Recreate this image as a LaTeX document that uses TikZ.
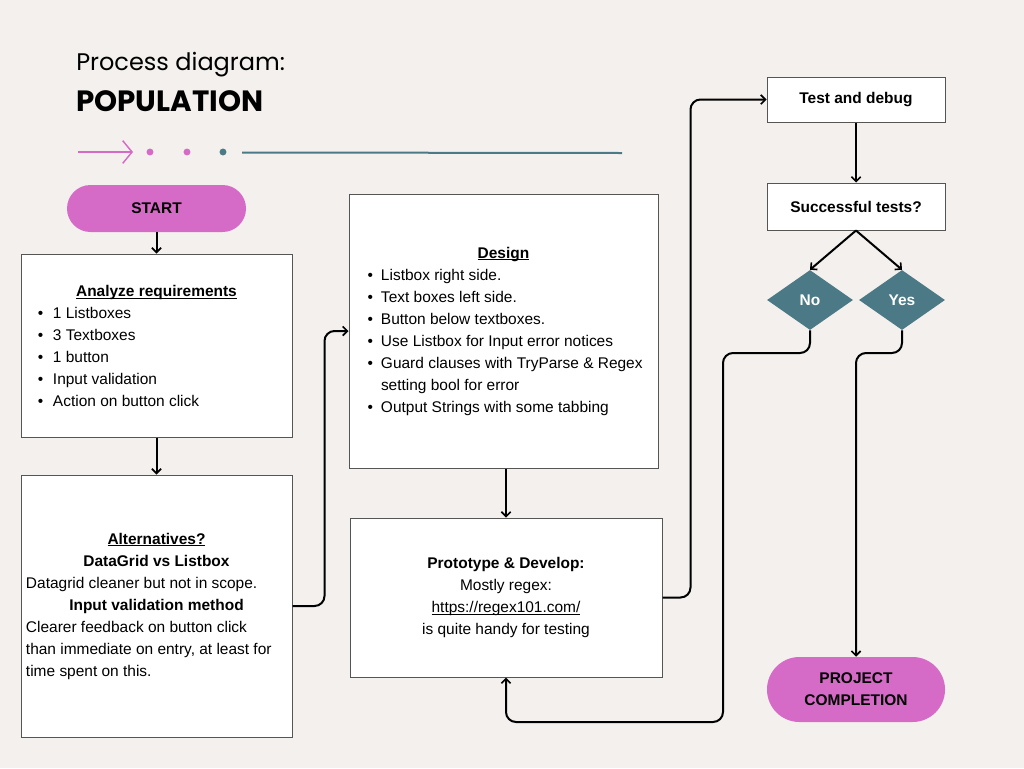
\documentclass[tikz,border=0pt]{standalone}
\usepackage{fontspec}
\setmainfont{Liberation Sans}
\newfontfamily\titlefont{Poppins}
\usetikzlibrary{shapes.geometric,arrows.meta,calc}
\definecolor{bg}{HTML}{F4F0ED}
\definecolor{pinkc}{HTML}{D56BC7}
\definecolor{tealc}{HTML}{4B7A86}
\definecolor{edgec}{HTML}{555555}
\newcommand\ul[1]{\setbox0\hbox{#1}\rlap{\rule[-1.8pt]{\wd0}{0.7pt}}\box0}
\newcommand\bul[2]{\par\noindent\hspace*{#1}\makebox[\dimexpr24pt-#1\relax][l]{\textbullet}#2}
\begin{document}
\begin{tikzpicture}[x=0.75pt,y=-0.75pt,
  every node/.style={font=\fontsize{11.6}{16.5}\selectfont},
  box/.style={draw=edgec,line width=0.75pt,fill=white,inner sep=0pt,rectangle},
  pill/.style={fill=pinkc,inner sep=0pt,font=\fontsize{11.6}{16.5}\selectfont\bfseries,align=center},
  dia/.style={diamond,fill=tealc,inner sep=0pt,minimum width=64.5pt,minimum height=45pt,text=white,font=\fontsize{11.6}{16.5}\selectfont\bfseries},
  conn/.style={line width=1.5pt,-{Straight Barb[length=3.5pt,width=7pt,line width=1.2pt]},rounded corners=7.5pt}]
\fill[bg] (0,0) rectangle (1024,768);
\useasboundingbox (0,0) rectangle (1024,768);

% title
\node[anchor=base west,inner sep=0,font=\titlefont\fontsize{18}{20}\selectfont] (t1) at (76,70) {Process diagram:};
\node[anchor=base west,inner sep=0,font=\titlefont\bfseries\fontsize{22}{24}\selectfont] (t2) at (76,111) {POPULATION};

% decoration
\coordinate (d0) at (78,152);
\coordinate (d1) at (133,152);
\draw[pinkc,line width=1.1pt,-{Straight Barb[length=7pt,width=17pt,line width=1.1pt]}] (d0) -- (d1);
\fill[pinkc] (150,152) circle (2.6pt);
\fill[pinkc] (187,152) circle (2.6pt);
\fill[tealc] (223,152) circle (2.6pt);
\coordinate (l0) at (242,152.5);
\coordinate (l1) at (622,153);
\draw[tealc,line width=1.5pt] (l0) -- (l1);

% nodes
\node[pill,minimum width=134.25pt,minimum height=35.25pt,rounded corners=17.6pt] (start) at (156.5,208.5) {START};

\node[box,minimum width=203.25pt,minimum height=137.25pt] (ana) at (156.5,345.5) {\parbox{203.25pt}{%
\centering\textbf{\ul{Analyze requirements}}\par\raggedright
\bul{12.75pt}{1 Listboxes}
\bul{12.75pt}{3 Textboxes}
\bul{12.75pt}{1 button}
\bul{12.75pt}{Input validation}
\bul{12.75pt}{Action on button click}}};

\node[box,minimum width=203.25pt,minimum height=196.5pt] (alt) at (156.5,606) {\parbox{203.25pt}{%
\centering\textbf{\ul{Alternatives?}}\par
\textbf{DataGrid vs Listbox}\par\raggedright
\noindent\hspace*{3.75pt}Datagrid cleaner but not in scope.\par
\centering\textbf{Input validation method}\par\raggedright
\noindent\hspace*{3.75pt}Clearer feedback on button click\par
\noindent\hspace*{3.75pt}than immediate on entry, at least for\par
\noindent\hspace*{3.75pt}time spent on this.}};

\node[box,minimum width=231.75pt,minimum height=205.5pt] (des) at (503.5,331) {\parbox{231.75pt}{%
\centering\textbf{\ul{Design}}\par\raggedright
\bul{14pt}{Listbox right side.}
\bul{14pt}{Text boxes left side.}
\bul{14pt}{Button below textboxes.}
\bul{14pt}{Use Listbox for Input error notices}
\bul{14pt}{Guard clauses with TryParse \& Regex}
\par\noindent\hspace*{24pt}setting bool for error
\bul{14pt}{Output Strings with some tabbing}}};

\node[box,minimum width=234pt,minimum height=119.25pt,align=center] (pro) at (506,597.5) {\textbf{Prototype \& Develop:}\\Mostly regex:\\\ul{https://regex101.com/}\\is quite handy for testing};

\node[box,minimum width=133.5pt,minimum height=33.75pt,font=\fontsize{11.6}{16.5}\selectfont\bfseries] (test) at (856,99.5) {Test and debug};
\node[box,minimum width=133.5pt,minimum height=35.25pt,font=\fontsize{11.6}{16.5}\selectfont\bfseries] (succ) at (856,206.5) {Successful tests?};

\node[dia] (no) at (810,300) {No};
\node[dia] (yes) at (902,300) {Yes};

\node[pill,minimum width=133.5pt,minimum height=48.75pt,rounded corners=24.3pt] (done) at (856,689.5) {PROJECT\\COMPLETION};

% connectors
\draw[conn] (start.south) -- (ana.north);
\draw[conn] (ana.south) -- (alt.north);
\draw[conn] (alt.east) -| ([xshift=-18pt]des.west) -- (des.west);
\draw[conn] (des.south -| pro.north) -- (pro.north);
\draw[conn] (pro.east) -| ([xshift=-57pt]test.west) -- (test.west);
\draw[conn] (test.south) -- (succ.north);
\draw[conn] (succ.south) -- (no.north);
\draw[conn] (succ.south) -- (yes.north);
\draw[conn] (no.south) |- (723,353) -- (723,722) -| (pro.south);
\draw[conn] (yes.south) |- (856,353) -- (done.north);
\end{tikzpicture}
\end{document}
